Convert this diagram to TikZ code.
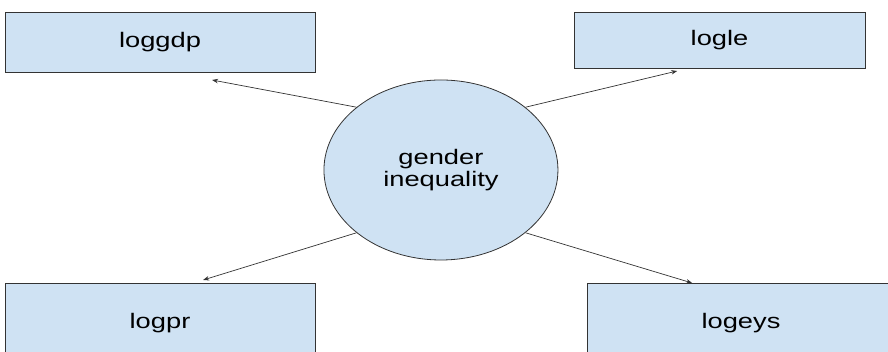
\documentclass[tikz,border=0pt]{standalone}
\usepackage{fontspec}
\setmainfont{Liberation Sans}
\definecolor{boxblue}{HTML}{CFE2F3}
\definecolor{edgegray}{HTML}{333333}
\tikzset{
  varbox/.style={draw=edgegray,fill=boxblue,line width=.8pt,rectangle,font=\fontsize{21}{22}\selectfont},
  factor/.style={draw=edgegray,fill=boxblue,line width=.8pt,circle,minimum size=180pt,inner sep=0pt,align=center,font=\fontsize{21}{22}\selectfont},
  link/.style={draw=edgegray,line width=.7pt,-{Stealth[length=6pt,width=4.5pt]}}
}
\usetikzlibrary{arrows.meta}
\begin{document}
\begin{tikzpicture}[xscale=1.3,x=1pt,y=1pt,every node/.append style={transform shape}]
      \useasboundingbox (0,0) rectangle (683.08,352);
      \node[varbox,minimum width=238.5pt,minimum height=60pt] (gdp) at (123.1,310) {loggdp};
      \node[varbox,minimum width=223.8pt,minimum height=56pt] (le) at (553.5,312) {logle};
      \node[varbox,minimum width=238.5pt,minimum height=80pt] (pr) at (123.1,29) {logpr};
      \node[varbox,minimum width=236.9pt,minimum height=80pt] (eys) at (570,29) {logeys};
      \node[factor] (ineq) at (339.2,182) {gender\\inequality};
      % arrow tips stop short of the boxes
      \coordinate (gdptip) at (163.1,272);
      \coordinate (letip) at (520.8,281);
      \coordinate (prtip) at (156.2,72);
      \coordinate (eystip) at (532.3,69);
      \draw[link] (ineq.136) -- (gdptip);
      \draw[link] (ineq.44) -- (letip);
      \draw[link] (ineq.224) -- (prtip);
      \draw[link] (ineq.316) -- (eystip);
\end{tikzpicture}
\end{document}
